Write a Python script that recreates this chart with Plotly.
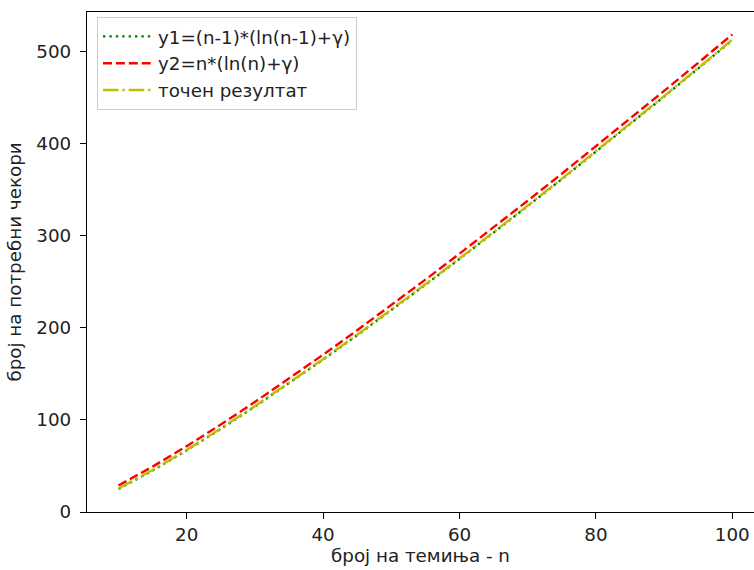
import plotly.graph_objects as go

n_values = [10, 15, 20, 25, 30, 35, 40, 45, 50, 55, 60, 65, 70, 75, 80, 85, 90, 95, 100]
y1_values = [24.97, 45.03, 66.91, 90.13, 114.39, 139.52, 165.39, 191.90, 218.98, 246.57,
             274.63, 303.11, 331.98, 361.22, 390.78, 420.67, 450.86, 481.33, 512.06]
y2_values = [28.80, 49.28, 71.46, 94.90, 119.35, 144.64, 170.64, 197.28, 224.46, 252.15,
             280.29, 308.85, 337.80, 367.10, 396.74, 426.69, 456.93, 487.45, 518.24]
exact_values = [25.46, 45.52, 67.40, 90.62, 114.88, 140.01, 165.88, 192.40, 219.48, 247.07,
                275.13, 303.61, 332.48, 361.72, 391.28, 421.17, 451.36, 481.83, 512.56]

series_names = ["y1=(n-1)*(ln(n-1)+γ)", "y2=n*(ln(n)+γ)", "точен резултат"]
x_ticks = [20, 40, 60, 80, 100]
y_ticks = [0, 100, 200, 300, 400, 500]

FONT = "DejaVu Sans"
FS = 18.3
LW = 2.4

fig = go.Figure()
fig.add_trace(go.Scatter(x=n_values, y=y1_values, mode="lines", name=series_names[0],
                         line=dict(color="#008000", width=LW, dash="2.4px,4px")))
fig.add_trace(go.Scatter(x=n_values, y=y2_values, mode="lines", name=series_names[1],
                         line=dict(color="#ff0000", width=LW, dash="9px,3.9px")))
fig.add_trace(go.Scatter(x=n_values, y=exact_values, mode="lines", name=series_names[2],
                         line=dict(color="#bfbf00", width=LW, dash="15.5px,3.9px,2.4px,3.9px")))

axis_common = dict(
    showgrid=False, zeroline=False, showline=True, linecolor="black", linewidth=1.3,
    ticks="outside", ticklen=6, tickwidth=1.3, tickcolor="black",
    tickfont=dict(family=FONT, size=FS, color="#222222"),
)

fig.update_layout(
    width=754, height=570,
    margin=dict(l=87, r=0, t=12, b=58),
    paper_bgcolor="white", plot_bgcolor="white",
    font=dict(family=FONT, size=FS, color="#222222"),
    xaxis=dict(range=[5.38, 103.18], tickvals=x_ticks, mirror=True,
               title=dict(text="број на темиња - n", font=dict(family=FONT, size=FS), standoff=4),
               **axis_common),
    yaxis=dict(range=[0, 542.6], tickvals=y_ticks, mirror=False, ticklabelstandoff=5,
               title=dict(text="број на потребни чекори", font=dict(family=FONT, size=FS), standoff=9),
               **axis_common),
    legend=dict(x=0.015, y=0.99, xanchor="left", yanchor="top",
                bgcolor="rgba(255,255,255,0.8)", bordercolor="#cccccc", borderwidth=1,
                itemwidth=50,
                font=dict(family=FONT, size=FS, color="#222222")),
    showlegend=True,
)

fig.write_html(
    "out.html",
    config={"displayModeBar": False},
    post_script="document.body.style.margin='0';document.body.style.overflow='hidden';",
)
